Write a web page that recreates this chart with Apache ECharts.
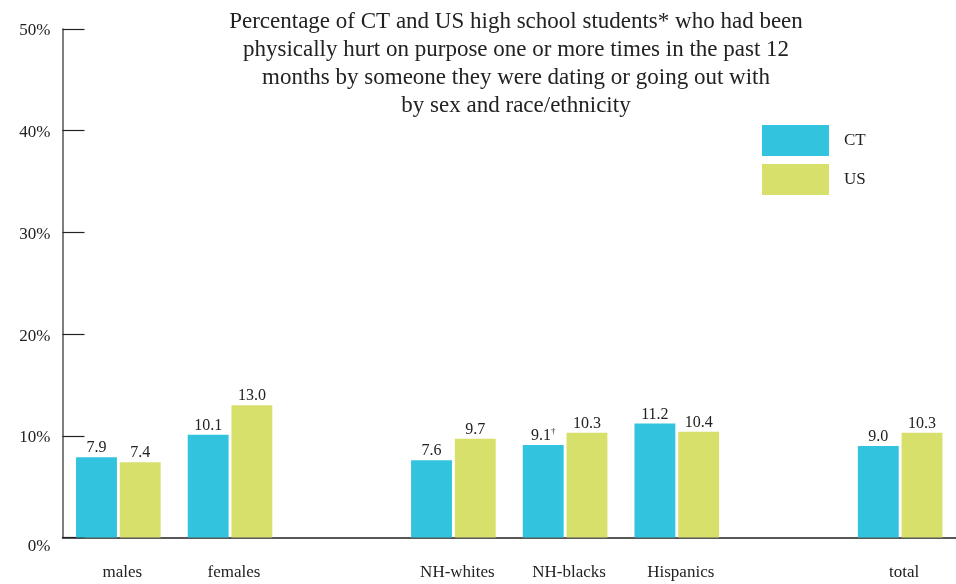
<!DOCTYPE html>
<html>
<head>
<meta charset="utf-8">
<script src="https://cdn.jsdelivr.net/npm/echarts@6/dist/echarts.min.js"></script>
<style>html,body{margin:0;padding:0;background:#fff}#c{width:956px;height:584px}</style>
</head>
<body>
<div id="c"></div>
<script>
var categories = ['males', 'females', '', 'NH-whites', 'NH-blacks', 'Hispanics', '', 'total'];
var ctValues = [7.9, 10.1, null, 7.6, 9.1, 11.2, null, 9.0];
var usValues = [7.4, 13.0, null, 9.7, 10.3, 10.4, null, 10.3];
var ctNotes = ['', '', '', '', '†', '', '', ''];
var yTicks = [0, 10, 20, 30, 40, 50];
var titleText = 'Percentage of CT and US high school students* who had been\nphysically hurt on purpose one or more times in the past 12\nmonths by someone they were dating or going out with\nby sex and race/ethnicity';

var FONT = 'Liberation Serif';
var chart = echarts.init(document.getElementById('c'));
function mk(vals, notes) {
  return vals.map(function (v, i) { return v === null ? '-' : { value: v, note: notes ? notes[i] : '' }; });
}
chart.setOption({
  animation: false,
  textStyle: { fontFamily: FONT },
  title: {
    text: titleText, left: 511, top: 3, textAlign: 'center',
    textStyle: { fontFamily: FONT, fontSize: 23, fontWeight: 'normal', color: '#222', lineHeight: 28 }
  },
  legend: {
    orient: 'vertical', left: 757, top: 120, itemWidth: 67, itemHeight: 31, itemGap: 8,
    icon: 'rect',
    textStyle: { fontFamily: FONT, fontSize: 17, color: '#222', padding: [0, 0, 0, 10] },
    data: ['CT', 'US']
  },
  grid: { left: 62.5, top: 29, width: 896, bottom: 46.5, containLabel: false },
  xAxis: {
    type: 'category', data: categories,
    axisLine: { lineStyle: { color: '#222', width: 1.5 } },
    axisTick: { show: false },
    axisLabel: { fontFamily: FONT, fontSize: 17, color: '#222', margin: 27, interval: 0, padding: [0, 0, 0, 8] }
  },
  yAxis: {
    type: 'value', min: 0, max: 50, interval: 10,
    axisLine: { show: true, lineStyle: { color: '#555', width: 1.5 } },
    axisTick: { show: true, inside: true, length: 22, lineStyle: { color: '#222', width: 1.2 } },
    splitLine: { show: false },
    axisLabel: {
      fontFamily: FONT, fontSize: 17, color: '#222', margin: 12,
      formatter: function (v) { return v === 0 ? '{z|0%}' : (yTicks.indexOf(v) >= 0 ? '{n|' + v + '%}' : ''); },
      rich: {
        z: { fontFamily: FONT, fontSize: 17, color: '#222', padding: [18, 0, 0, 0] },
        n: { fontFamily: FONT, fontSize: 17, color: '#222', padding: [4, 0, 0, 0] }
      }
    }
  },
  series: [
    {
      name: 'CT', type: 'bar', data: mk(ctValues, ctNotes), barWidth: '36.6%', barGap: '7%',
      itemStyle: { color: '#32C3DF' },
      label: {
        show: true, position: 'top', distance: 1,
        formatter: function (p) { return p.value.toFixed(1) + (p.data.note ? '{s|' + p.data.note + '}' : ''); },
        fontFamily: FONT, fontSize: 16, color: '#222',
        rich: { s: { fontFamily: FONT, fontSize: 9, color: '#222', verticalAlign: 'top', padding: [0, 0, 8, 0] } }
      }
    },
    {
      name: 'US', type: 'bar', data: mk(usValues), barWidth: '36.6%', barGap: '7%',
      itemStyle: { color: '#D8E06C' },
      label: {
        show: true, position: 'top', distance: 1,
        formatter: function (p) { return p.value.toFixed(1); },
        fontFamily: FONT, fontSize: 16, color: '#222'
      }
    }
  ]
});
</script>
</body>
</html>
